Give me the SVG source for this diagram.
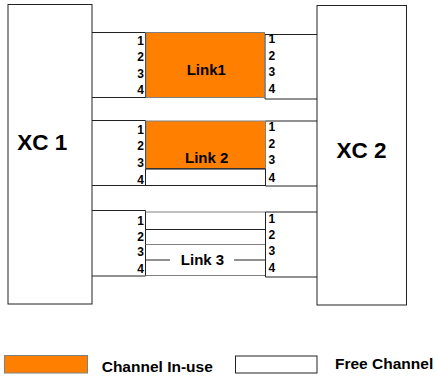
<svg xmlns="http://www.w3.org/2000/svg" width="435" height="378" viewBox="0 0 435 378">
<style>
.box{fill:#fff;stroke:#222;stroke-width:1}
.use{fill:#FF8000;stroke:#808080;stroke-width:1}
.ln{stroke:#222;stroke-width:1;fill:none}
.lg{stroke:#808080;stroke-width:1;fill:none}
text{font-family:"Liberation Sans",Arial,sans-serif;font-weight:bold;fill:#000}
.d{font-size:12px}
.dl{text-anchor:end}
.lbl{font-size:15px;text-anchor:middle}
.xc{font-size:22.5px}
.leg{font-size:15.5px}
</style>
<rect width="435" height="378" fill="#fff"/>
<g id="xc1">
<rect class="box" x="8" y="4.5" width="84" height="299.5"/>
<text class="xc" x="17.3" y="150">XC 1</text>
</g>
<g id="xc2">
<rect class="box" x="317" y="5.5" width="89.5" height="299.5"/>
<text class="xc" x="336.5" y="158.3">XC 2</text>
</g>
<g id="connectors">
<!-- Link1 -->
<path class="ln" d="M92 32.5H145.5V97.5M92 97.5H146"/>
<path class="ln" d="M265 99H317M265 34.5H317M265 34.5V99"/>
<!-- Link2 -->
<path class="ln" d="M92 120.5H145.5V185.5M92 185.5H265.5"/>
<path class="lg" d="M146 169.5H265.5"/>
<path class="ln" d="M265.5 121V186M265.5 121H317M265.5 186H317"/>
<!-- Link3 -->
<path class="ln" d="M92 210.5H145.5V276M92 276H145.5"/>
<path class="lg" d="M145.5 212H265.5M145.5 244.5H265.5M145.5 275.5H265.5"/>
<path class="ln" d="M145.5 229.5H265.5M145.5 260H170M234 260H265.5"/>
<path class="ln" d="M265.5 212V277M265.5 212H317M265.5 277H317"/>
</g>
<g id="link1">
<rect class="use" x="146" y="32.5" width="118.5" height="65"/>
<text class="lbl" x="206.3" y="75">Link1</text>
<text class="d dl" x="144" y="45">1</text>
<text class="d dl" x="144" y="61">2</text>
<text class="d dl" x="144" y="77.5">3</text>
<text class="d dl" x="144" y="94">4</text>
<text class="d" x="268.5" y="43">1</text>
<text class="d" x="268.5" y="60">2</text>
<text class="d" x="268.5" y="76">3</text>
<text class="d" x="268.5" y="92.7">4</text>
</g>
<g id="link2">
<rect class="use" x="146" y="121" width="119.5" height="47.5"/>
<path d="M146 168.5H265.5" stroke="#333" stroke-width="1"/>
<text class="lbl" x="206.7" y="163.3">Link 2</text>
<text class="d dl" x="144" y="134">1</text>
<text class="d dl" x="144" y="150">2</text>
<text class="d dl" x="144" y="166.5">3</text>
<text class="d dl" x="144" y="184">4</text>
<text class="d" x="268.5" y="131">1</text>
<text class="d" x="268.5" y="148">2</text>
<text class="d" x="268.5" y="164">3</text>
<text class="d" x="268.5" y="182">4</text>
</g>
<g id="link3">
<text class="lbl" x="202.5" y="264.5">Link 3</text>
<text class="d dl" x="144" y="224.5">1</text>
<text class="d dl" x="144" y="240.5">2</text>
<text class="d dl" x="144" y="256">3</text>
<text class="d dl" x="144" y="273">4</text>
<text class="d" x="268.5" y="222.7">1</text>
<text class="d" x="268.5" y="239">2</text>
<text class="d" x="268.5" y="255.3">3</text>
<text class="d" x="268.5" y="272.3">4</text>
</g>
<g id="legend-inuse">
<rect class="use" x="4.5" y="355.5" width="83" height="17.5"/>
<text class="leg" x="101.7" y="371.5">Channel In-use</text>
</g>
<g id="legend-free">
<rect class="box" x="235.5" y="356" width="81.5" height="17"/>
<text class="leg" x="335" y="368.5">Free Channel</text>
</g>
</svg>
